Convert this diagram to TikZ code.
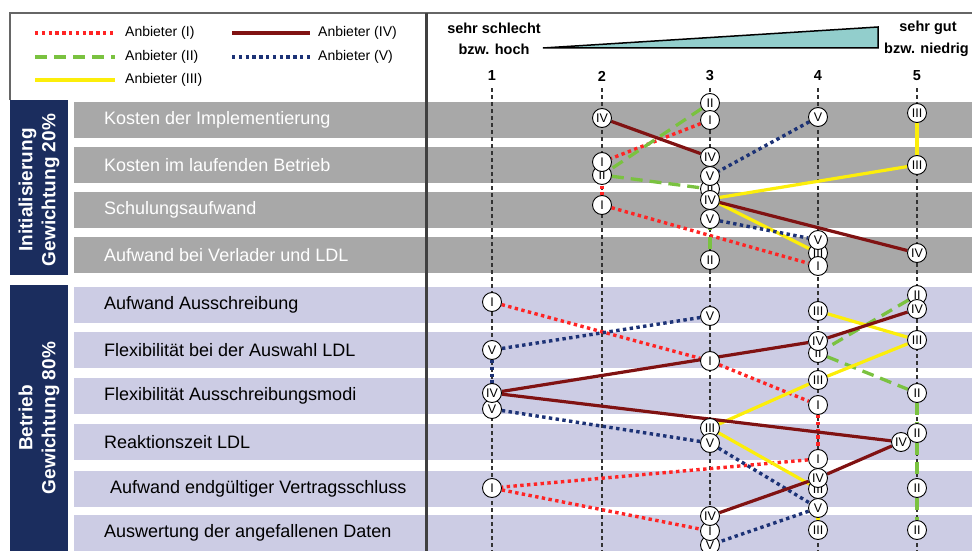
\documentclass[tikz,border=0pt]{standalone}
\usepackage{fontspec}
\setmainfont{Liberation Sans}
\pgfdeclarelayer{bands}
\pgfdeclarelayer{links}
\pgfsetlayers{bands,links,main}
\definecolor{bandgray}{RGB}{168,168,168}
\definecolor{bandlila}{RGB}{204,204,228}
\definecolor{boxnavy}{RGB}{27,45,94}
\definecolor{wedgecyan}{RGB}{146,206,204}
\definecolor{colI}{RGB}{255,36,36}
\definecolor{colII}{RGB}{122,194,64}
\definecolor{colIII}{RGB}{252,238,10}
\definecolor{colIV}{RGB}{128,18,18}
\definecolor{colV}{RGB}{28,50,118}
\begin{document}
\begin{tikzpicture}[x=1pt, y=-1pt,
	every node/.style = {inner sep=0pt},
	krit/.style = {anchor=west, font=\fontsize{18}{20}\selectfont},
	legtext/.style = {anchor=west, font=\fontsize{14}{16}\selectfont},
	head/.style = {font=\bfseries\fontsize{14.5}{16}\selectfont},
	side/.style = {rotate=90, align=center, text=white,
		font=\bfseries\fontsize{19}{23}\selectfont},
	rn/.style = {circle, draw, line width=0.9pt, fill=white, minimum size=19pt,
		font=\fontsize{12.5}{12.5}\selectfont},
	guide/.style = {dash pattern=on 4pt off 3pt, line width=1.1pt, black!80},
	anbI/.style = {colI, line width=3.4pt, dash pattern=on 3.4pt off 3.4pt},
	anbII/.style = {colII, line width=3.3pt, dash pattern=on 12pt off 7pt},
	anbIII/.style = {colIII, line width=3.2pt},
	anbIV/.style = {colIV, line width=3.2pt},
	anbV/.style = {colV, line width=3.4pt, dash pattern=on 3.4pt off 3.4pt}]
	\clip (0,0) rectangle (972,551);
	% Zeilen und Skala
	\begin{pgfonlayer}{bands}
	\foreach \y in {120,165,210,255}
		\fill[bandgray] (74,\y-18) rectangle (972,\y+18);
	\foreach \y in {304.5,350,396,442,488.5,533}
		\fill[bandlila] (74,\y-18) rectangle (972,\y+18);
	\foreach \x in {492,602,710,818,917}
		\draw[guide] (\x,88) -- (\x,551);
	\end{pgfonlayer}
	\draw[line width=2pt, black!60] (10,100) -- (10,13) -- (972,13);
	\draw[line width=3pt, black!75] (426,13) -- (426,551);
	\fill[boxnavy] (10,100) rectangle (68,275);
	\fill[boxnavy] (10,285) rectangle (68,551);
	\node[side] (init) at (39,190) {Initialisierung\\Gewichtung 20\%};
	\node[side] (betrieb) at (39,418) {Betrieb\\Gewichtung 80\%};
	\foreach \y/\t [count=\i] in {120/Kosten der Implementierung,
		165/Kosten im laufenden Betrieb, 210/Schulungsaufwand,
		255/Aufwand bei Verlader und LDL}
		\node[krit, text=white] (krit\i) at (104,\y) {\t};
	\foreach \x/\y/\t [count=\i from 5] in {104/304.5/Aufwand Ausschreibung,
		104/350/Flexibilität bei der Auswahl LDL,
		104/396/Flexibilität Ausschreibungsmodi, 104/442/Reaktionszeit LDL,
		110/488.5/Aufwand endgültiger Vertragsschluss,
		104/533/Auswertung der angefallenen Daten}
		\node[krit] (krit\i) at (\x,\y) {\t};
	% Legende
	\node[legtext] (legI) at (125,33) {Anbieter (I)};
	\node[legtext] (legII) at (125,57) {Anbieter (II)};
	\node[legtext] (legIII) at (125,80) {Anbieter (III)};
	\node[legtext] (legIV) at (318,33) {Anbieter (IV)};
	\node[legtext] (legV) at (318,57) {Anbieter (V)};
	\draw[anbI] ([xshift=-90pt]legI.west) -- ([xshift=-10pt]legI.west);
	\draw[anbII] ([xshift=-90pt]legII.west) -- ([xshift=-10pt]legII.west);
	\draw[anbIII] ([xshift=-90pt]legIII.west) -- ([xshift=-10pt]legIII.west);
	\draw[anbIV] ([xshift=-86pt]legIV.west) -- ([xshift=-8pt]legIV.west);
	\draw[anbV] ([xshift=-86pt]legV.west) -- ([xshift=-8pt]legV.west);
	% Kopf
	\node[head] (schlecht) at (494,28) {sehr schlecht};
	\node[head] (hoch) at (494,49) {bzw. hoch};
	\node[head] (gut) at (928,28) {sehr gut};
	\node[head, anchor=west] (niedrig) at (884,50) {bzw. niedrig};
	\draw[line width=1.5pt, fill=wedgecyan] (543,48) -- (878,27) -- (878,48) -- cycle;
	\foreach \x [count=\i] in {492,602,710,818,917}
		\node[head] (n\i) at (\x,76) {\i};
	% Bewertungen
	\coordinate (III3) at (710,199);
	\foreach \n/\x/\y/\t in {IV1/602/118/IV, II1/710/103/II, I1/710/120/I,
		V1/818/117/V, III1/917/113/III,
		II2/602/175/II, I2/602/162/I, IV2/710/157/IV, II3/710/189/II,
		V2/710/176/V, IV3/710/200/IV, V3/710/219/V,
		III2/917/165/III, I3/602/205/I,
		II4/710/260/II, III4/818/253/III, V4/818/240/V, I4/818/266/I,
		IV4/917/253/IV,
		I5/492/302/I, V5/710/316/V, III5/818/311/III, II5/917/295/II,
		IV5/917/309/IV,
		V6/492/350/V, I6/710/361/I, II6/818/353/II, IV6/818/341/IV,
		III6/917/340/III,
		V7/492/409/V, IV7/492/393/IV, III7/818/380/III, I7/818/405/I,
		II7/917/393/II,
		III8/710/428/III, V8/710/443/V, I8/818/459/I, IV8/901/442/IV,
		II8/917/433/II,
		I9/492/488/I, III9/818/489/III, IV9/818/478/IV, V9/818/508/V,
		II9/917/488/II,
		V10/710/545/V, I10/710/531/I, IV10/710/516/IV, III10/818/530/III,
		II10/917/530/II}
		\node[rn] (\n) at (\x,\y) {\t};
	\begin{pgfonlayer}{links}
	\foreach \a/\b in {1/2,2/3,3/4,5/6,6/7,7/8,8/9,9/10} {
		\draw[anbI] (I\a) -- (I\b);
		\draw[anbII] (II\a) -- (II\b);
		\draw[anbIII] (III\a) -- (III\b);
		\draw[anbIV] (IV\a) -- (IV\b);
		\draw[anbV] (V\a) -- (V\b);
	}
	\end{pgfonlayer}
\end{tikzpicture}
\end{document}
